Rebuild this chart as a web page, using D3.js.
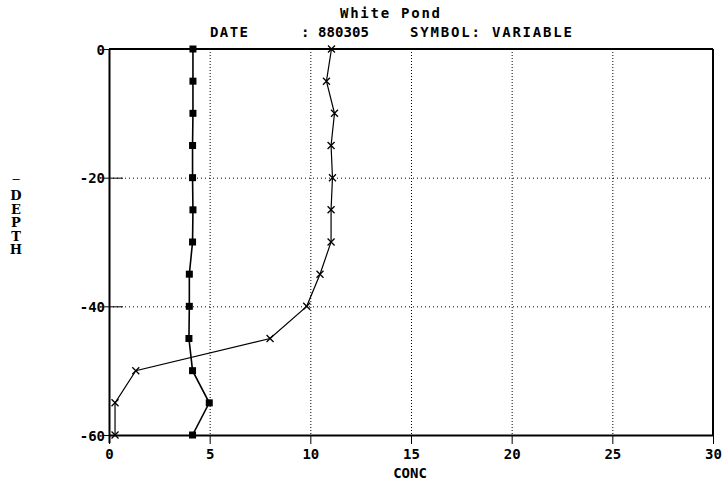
<!DOCTYPE html>
<html><head><meta charset="utf-8">
<script src="https://cdn.jsdelivr.net/npm/d3@7"></script>
<style>
html,body{margin:0;padding:0;background:#fff;}
text{font-family:"DejaVu Sans Mono",monospace;font-weight:bold;fill:#000;}
</style></head>
<body><svg id="c" width="724" height="486"></svg>
<script>
const depth = [0,-5,-10,-15,-20,-25,-30,-35,-40,-45,-50,-55,-60];
const squareConc = [4.17,4.17,4.17,4.15,4.15,4.17,4.15,3.99,3.99,3.97,4.15,4.98,4.15];
const crossConc = [11.05,10.8,11.2,11.03,11.1,11.03,11.03,10.48,9.82,8.0,1.33,0.3,0.3];
const xTicks = [0,5,10,15,20,25,30];
const yTicks = [0,-20,-40,-60];
const xGrid = [5,10,15,20,25];
const yGrid = [-20,-40];
const title = "White Pond";
const dateLabel = "DATE";
const dateValue = ": 880305";
const symbolLabel = "SYMBOL: VARIABLE";
const xTitle = "CONC";
const yTitleDash = "—";
const yTitle = ["D","E","P","T","H"];

const svg = d3.select("#c");
const x = d3.scaleLinear().domain([0,30]).range([109,713]);
const y = d3.scaleLinear().domain([0,-60]).range([49,435]);

// grid
svg.append("g").selectAll("line").data(xGrid).join("line")
  .attr("x1",d=>x(d)+0.5).attr("x2",d=>x(d)+0.5).attr("y1",y(0)).attr("y2",y(-60))
  .attr("stroke","#000").attr("stroke-width",1).attr("stroke-dasharray","1,2");
svg.append("g").selectAll("line").data(yGrid).join("line")
  .attr("x1",x(0)).attr("x2",x(30)).attr("y1",d=>y(d)+0.5).attr("y2",d=>y(d)+0.5)
  .attr("stroke","#000").attr("stroke-width",1).attr("stroke-dasharray","1,3");

// axes
const xAxis = d3.axisBottom(x).tickValues(xTicks).tickSize(9).tickSizeOuter(0).tickPadding(3);
const gx = svg.append("g").attr("transform",`translate(0,${y(-60)})`).call(xAxis);
const yAxis = d3.axisLeft(y).tickValues(yTicks).tickSize(6).tickSizeOuter(0).tickPadding(3)
  .tickFormat(d=>d===0?"0":String(d));
const gy = svg.append("g").attr("transform",`translate(${x(0)},0)`).call(yAxis);
[gx,gy].forEach(g=>{
  g.select(".domain").attr("stroke","#000").attr("stroke-width",2);
  g.selectAll(".tick line").attr("stroke","#000").attr("stroke-width",1);
  g.selectAll("text").style("font-size","14px").style("font-family","DejaVu Sans Mono").style("font-weight","bold").attr("fill","#000");
});
gx.selectAll(".tick text").attr("dy","0.85em");
gy.selectAll(".tick line").attr("x2",14).attr("x1",-6);
gy.selectAll(".tick text").attr("x",-4).attr("dy","0.36em");
gy.select(".domain").attr("d",`M0.5,${y(0)}V${y(-60)+8}`);

// frame top and right
svg.append("line").attr("x1",x(0)).attr("x2",x(30)).attr("y1",y(0)).attr("y2",y(0))
  .attr("stroke","#000").attr("stroke-width",2);
svg.append("line").attr("x1",x(30)).attr("x2",x(30)).attr("y1",y(0)).attr("y2",y(-60))
  .attr("stroke","#000").attr("stroke-width",2);

// series lines
const line = (vals)=>d3.line().x((d,i)=>x(vals[i])).y(d=>y(d));
svg.append("path").datum(depth).attr("d",line(squareConc)).attr("fill","none")
  .attr("stroke","#000").attr("stroke-width",1.6);
svg.append("path").datum(depth).attr("d",line(crossConc)).attr("fill","none")
  .attr("stroke","#000").attr("stroke-width",1.2);

// markers
svg.append("g").selectAll("rect").data(depth).join("rect")
  .attr("x",(d,i)=>x(squareConc[i])-3.5).attr("y",d=>y(d)-3.5)
  .attr("width",7).attr("height",7).attr("fill","#000");
svg.append("g").selectAll("path").data(depth).join("path")
  .attr("d",(d,i)=>{const cx=x(crossConc[i]),cy=y(d),r=3.5;
    return `M${cx-r},${cy-r}L${cx+r},${cy+r}M${cx+r},${cy-r}L${cx-r},${cy+r}`;})
  .attr("stroke","#000").attr("stroke-width",1.3).attr("fill","none");

// titles
svg.append("text").attr("x",390).attr("y",18).attr("text-anchor","middle")
  .style("font-size","14px").attr("textLength",100).attr("lengthAdjust","spacing").text(title);
svg.append("text").attr("x",210).attr("y",37).style("font-size","14px")
  .attr("textLength",38).attr("lengthAdjust","spacing").text(dateLabel);
svg.append("text").attr("x",301).attr("y",37).style("font-size","14px")
  .attr("textLength",68).attr("lengthAdjust","spacing").text(dateValue);
svg.append("text").attr("x",410).attr("y",37).style("font-size","14px")
  .attr("textLength",162).attr("lengthAdjust","spacing").text(symbolLabel);
svg.append("text").attr("x",410).attr("y",478).attr("text-anchor","middle")
  .style("font-size","14px").text(xTitle);
svg.append("text").attr("x",16).attr("y",183).attr("text-anchor","middle")
  .style("font-size","12px").style("font-weight","normal").text(yTitleDash);
svg.append("g").selectAll("text").data(yTitle).join("text")
  .attr("x",16).attr("y",(d,i)=>200+i*13.5).attr("text-anchor","middle")
  .style("font-size","13px").style("font-family","DejaVu Serif").text(d=>d);
</script></body></html>
